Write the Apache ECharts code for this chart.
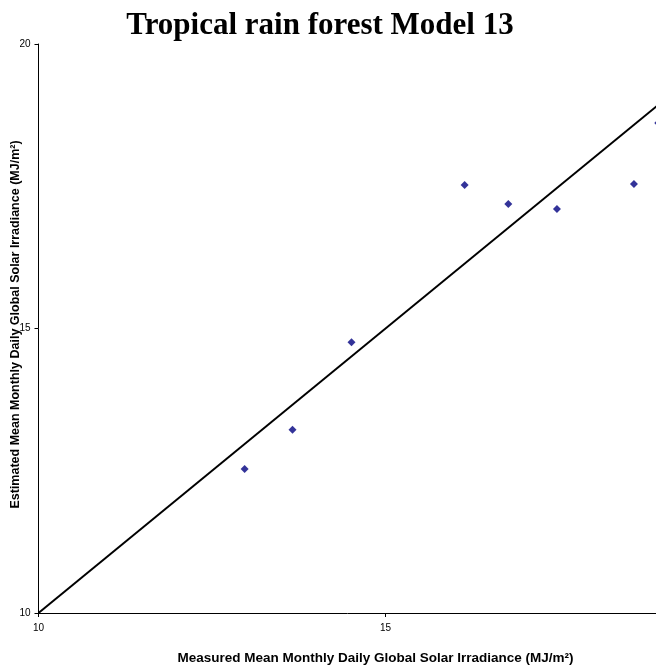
<!DOCTYPE html>
<html>
<head>
<meta charset="utf-8">
<script src="https://cdn.jsdelivr.net/npm/echarts@6/dist/echarts.min.js"></script>
<style>
  html, body { margin: 0; padding: 0; background: #fff; }
  #chart { width: 656px; height: 672px; }
</style>
</head>
<body>
<div id="chart"></div>
<script>
// Measured vs estimated monthly mean daily global solar irradiance (MJ/m²)
const measured  = [12.97, 13.66, 14.51, 16.14, 16.77, 17.47, 18.58, 18.93];
const estimated = [12.53, 13.22, 14.76, 17.52, 17.19, 17.10, 17.54, 18.61];
// 1:1 reference line
const refLineX = [10, 20];
const refLineY = [10, 20];
const xTicks = [10, 15, 20];
const yTicks = [10, 15, 20];

const chart = echarts.init(document.getElementById('chart'));

const axisCommon = {
  type: 'value',
  min: 10,
  max: 20,
  interval: 5,
  axisLine: { show: true, onZero: false, lineStyle: { color: '#000', width: 1 } },
  axisTick: { show: true, length: 4, lineStyle: { color: '#000' } },
  splitLine: { show: false },
  axisLabel: { color: '#000', fontFamily: 'Liberation Sans, Arial', fontSize: 10 }
};

chart.setOption({
  animation: false,
  backgroundColor: '#fff',
  title: {
    text: 'Tropical rain forest Model 13',
    left: 315,
    textAlign: 'center',
    top: 5,
    textStyle: {
      fontFamily: 'Liberation Serif, Times New Roman',
      fontWeight: 'bold',
      fontSize: 31,
      color: '#000'
    }
  },
  grid: { left: 38.5, top: 44, width: 694, height: 569, outerBoundsMode: 'none', containLabel: false },
  xAxis: Object.assign({}, axisCommon, {
    name: 'Measured Mean Monthly Daily Global Solar Irradiance (MJ/m²)',
    nameLocation: 'middle',
    nameGap: 38,
    nameMoveOverlap: false,
    nameTextStyle: {
      fontFamily: 'Liberation Sans, Arial', fontWeight: 'bold', fontSize: 13.5,
      color: '#000', padding: [0, 20, 0, 0]
    },
    axisLabel: Object.assign({}, axisCommon.axisLabel, {
      margin: 10,
      formatter: v => xTicks.includes(v) ? String(v) : ''
    })
  }),
  yAxis: Object.assign({}, axisCommon, {
    name: 'Estimated Mean Monthly Daily Global Solar Irradiance (MJ/m²)',
    nameLocation: 'middle',
    nameGap: 16,
    nameMoveOverlap: false,
    nameTextStyle: {
      fontFamily: 'Liberation Sans, Arial', fontWeight: 'bold', fontSize: 12.5,
      color: '#000', padding: [0, 0, 0, 8]
    },
    axisLabel: Object.assign({}, axisCommon.axisLabel, {
      margin: 8,
      formatter: v => yTicks.includes(v) ? String(v) : ''
    })
  }),
  series: [
    {
      type: 'line',
      data: refLineX.map((x, i) => [x, refLineY[i]]),
      symbol: 'none',
      lineStyle: { color: '#000', width: 2 },
      silent: true,
      z: 2
    },
    {
      type: 'scatter',
      data: measured.map((x, i) => [x, estimated[i]]),
      symbol: 'diamond',
      symbolSize: 8,
      itemStyle: { color: '#000080' },
      z: 3
    }
  ]
});
</script>
</body>
</html>
